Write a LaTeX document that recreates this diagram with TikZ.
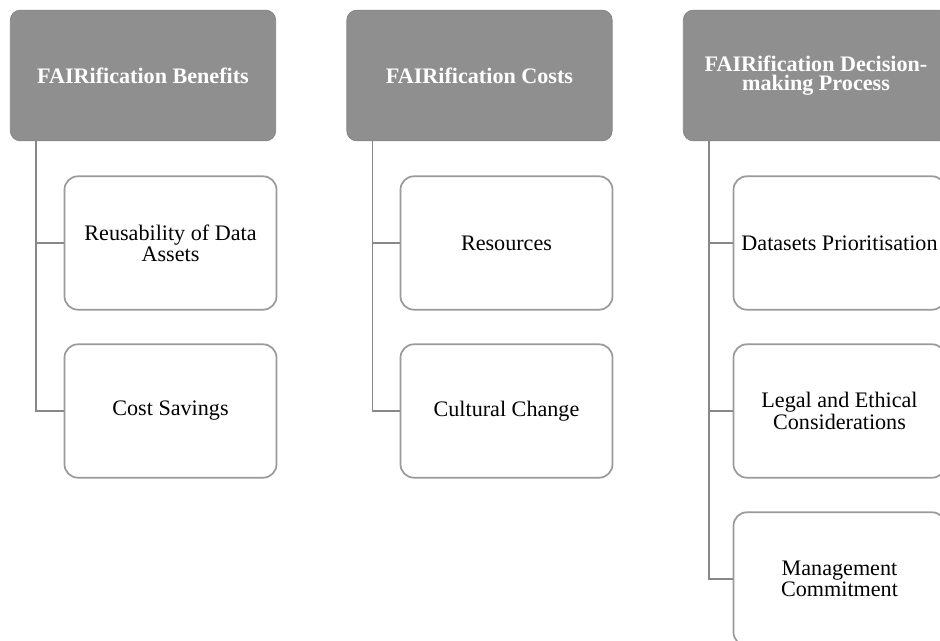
\documentclass[tikz,border=0pt]{standalone}
\usepackage{fontspec}
\setmainfont{Liberation Serif}
\definecolor{headfill}{HTML}{8F8F8F}
\definecolor{headline}{HTML}{858585}
\definecolor{leafline}{HTML}{9A9A9A}
\definecolor{linkgray}{HTML}{888888}
\begin{document}
\begin{tikzpicture}[x=0.75pt,y=-0.75pt,
  head/.style = {rectangle,rounded corners=7.5pt,fill=headfill,draw=headline,semithick,minimum width=199pt,minimum height=98pt,text=white,font=\bfseries\fontsize{16.6}{14.5}\selectfont,align=center},
  leaf/.style = {rectangle,rounded corners=10pt,draw=leafline,line width=1.3pt,fill=white,minimum width=159pt,minimum height=100pt,font=\fontsize{16.6}{14.5}\selectfont,align=center},
  link/.style = {draw=linkgray,line width=1.4pt}]
\clip (0,0) rectangle (940,641);
\foreach \t [count=\j from 1] in {FAIRification Benefits, FAIRification Costs, {FAIRification Decision-\\making Process}}
    \node[head] (h\j) at ({143+336.5*(\j-1)}, 75.5) {\t};
\foreach \t [count=\j from 1] in {{Reusability of Data\\Assets}, Cost Savings}
    \node[leaf] (c1\j) at (170.5, {243+168*(\j-1)}) {\t};
\foreach \t [count=\j from 1] in {Resources, Cultural Change}
    \node[leaf] (c2\j) at (506.5, {243+168*(\j-1)}) {\t};
\foreach \t [count=\j from 1] in {Datasets Prioritisation, {Legal and Ethical\\Considerations}, {Management\\Commitment}}
    \node[leaf] (c3\j) at (839.5, {243+168*(\j-1)}) {\t};
\foreach \i/\n in {1/2, 2/2, 3/3}
    \foreach \k in {1,...,\n}
        \draw[link] ([xshift=19.5pt]h\i.south west) |- (c\i\k.west);
\end{tikzpicture}
\end{document}
